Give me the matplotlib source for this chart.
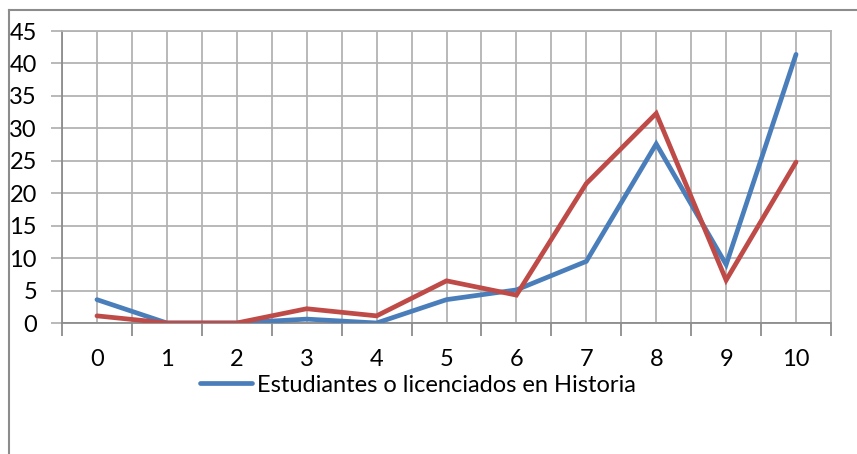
import numpy as np
import matplotlib.pyplot as plt
from matplotlib.lines import Line2D

# Datos
categorias = list(range(11))
historia = [3.6, 0, 0, 0.6, 0, 3.6, 5.1, 9.5, 27.6, 9.0, 41.4]
otros = [1.1, 0, 0, 2.2, 1.1, 6.5, 4.3, 21.5, 32.3, 6.6, 24.8]
etiqueta_azul = "Estudiantes o licenciados en Historia"

azul = "#4A7EBB"
rojo = "#BE4B48"
gris_rejilla = "#B3B3B3"
gris_eje = "#8C8C8C"

plt.rcParams['font.family'] = ['Lato', 'DejaVu Sans']

W, H = 857, 454
fig = plt.figure(figsize=(W / 100, H / 100), dpi=100)
ax = fig.add_axes([62 / W, 1 - 323 / H, (831 - 62) / W, (323 - 31) / H])

ax.plot(categorias, historia, color=azul, lw=3.4, solid_capstyle='round',
        solid_joinstyle='miter', zorder=3, label=etiqueta_azul)
ax.plot(categorias, otros, color=rojo, lw=3.4, solid_capstyle='round',
        solid_joinstyle='miter', zorder=4)

ax.set_xlim(-0.5, 10.5)
ax.set_ylim(0, 45)
ax.set_yticks(np.arange(0, 46, 5))
ax.set_xticks(categorias)
ax.set_xticks(np.arange(-0.5, 11, 1), minor=True)

ax.grid(True, which='both', color=gris_rejilla, lw=1.3, zorder=0)
ax.set_axisbelow(True)

ax.tick_params(axis='y', length=8, width=1.3, color=gris_rejilla, pad=10,
               labelsize=17)
ax.tick_params(axis='x', which='major', length=0, pad=19, labelsize=17)
ax.tick_params(axis='x', which='minor', length=9, width=1.3, color=gris_eje)

for lado in ['top', 'right']:
    ax.spines[lado].set_color(gris_rejilla)
    ax.spines[lado].set_linewidth(1.3)
for lado in ['left', 'bottom']:
    ax.spines[lado].set_color(gris_eje)
    ax.spines[lado].set_linewidth(1.3)

# Borde del área del gráfico (recortado a derecha y abajo)
fig.add_artist(Line2D([9 / W, 9 / W], [0, 1 - 10 / H], color=gris_eje, lw=1.5,
                      transform=fig.transFigure))
fig.add_artist(Line2D([9 / W, 1], [1 - 10 / H, 1 - 10 / H], color=gris_eje,
                      lw=1.5, transform=fig.transFigure))

fig.legend(handles=[ax.lines[0]], loc='center left',
           bbox_to_anchor=(200 / W, 1 - 385 / H), frameon=False,
           borderpad=0, borderaxespad=0, handlelength=2.2, handletextpad=0.2,
           fontsize=17)

plt.savefig('out.png', dpi=100)
